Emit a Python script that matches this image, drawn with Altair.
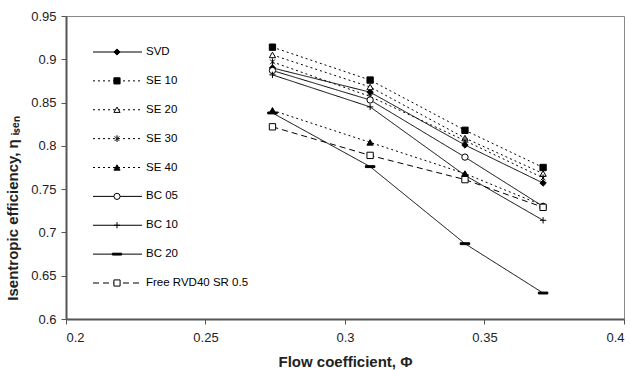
import altair as alt
import pandas as pd

phi = [0.274, 0.309, 0.343, 0.371]
series = ["SVD", "SE 10", "SE 20", "SE 30", "SE 40", "BC 05", "BC 10", "BC 20", "Free RVD40 SR 0.5"]
svd = [0.890, 0.862, 0.801, 0.757]
se10 = [0.914, 0.876, 0.818, 0.775]
se20 = [0.905, 0.868, 0.809, 0.768]
se30 = [0.897, 0.857, 0.806, 0.763]
se40 = [0.841, 0.804, 0.768, 0.731]
bc05 = [0.887, 0.853, 0.787, 0.730]
bc10 = [0.882, 0.845, 0.766, 0.714]
bc20 = [0.838, 0.776, 0.687, 0.630]
free = [0.822, 0.789, 0.761, 0.729]
values = [svd, se10, se20, se30, se40, bc05, bc10, bc20, free]

x_ticks = [0.2, 0.25, 0.3, 0.35, 0.4]
y_ticks = [0.6, 0.65, 0.7, 0.75, 0.8, 0.85, 0.9, 0.95]

star = "M-0.75,-0.75L0.75,0.75M-0.75,0.75L0.75,-0.75M0,-1.1L0,1.1"
plus = "M-1,0L1,0M0,-1L0,1"
dash = "M-1.5,-0.3L1.5,-0.3L1.5,0.3L-1.5,0.3Z"
shapes = ["diamond", "square", "triangle-up", star, "triangle-up", "circle", plus, dash, "square"]
fills = ["black", "black", "white", "transparent", "black", "white", "transparent", "black", "white"]
solid, dot, longdash = [1, 0], [2, 3], [6, 4]
dashes = [solid, dot, dot, dot, dot, solid, solid, solid, longdash]

rows = []
for s, vals in zip(series, values):
    for p, v in zip(phi, vals):
        rows.append({"series": s, "phi": p, "eff": v})
df = pd.DataFrame(rows)
leg = pd.DataFrame({"series": series})

shape_scale = alt.Scale(domain=series, range=shapes)
fill_scale = alt.Scale(domain=series, range=fills)
dash_scale = alt.Scale(domain=series, range=dashes)

X = alt.X("phi:Q", scale=alt.Scale(domain=[0.2, 0.4], nice=False),
          axis=alt.Axis(values=x_ticks, format=".2~f", title="Flow coefficient, Φ", grid=False))
Y = alt.Y("eff:Q", scale=alt.Scale(domain=[0.6, 0.95], nice=False, zero=False),
          axis=alt.Axis(values=y_ticks, format=".2~f", title="Isentropic efficiency,  η ᵢₛₑₙ",
                        grid=False, titleY=192))

lines = alt.Chart(df).mark_line(color="black", strokeWidth=1).encode(
    x=X, y=Y,
    strokeDash=alt.StrokeDash("series:N", scale=dash_scale, legend=None),
    detail="series:N",
)
points = alt.Chart(df).mark_point(filled=False, stroke="black", strokeWidth=1, size=40, opacity=1).encode(
    x=X, y=Y,
    shape=alt.Shape("series:N", scale=shape_scale, legend=None),
    fill=alt.Fill("series:N", scale=fill_scale, legend=None),
)

LY = alt.Y("series:N", scale=alt.Scale(domain=series, type="point", range=[36, 267], padding=0), axis=None)
leg_rule = alt.Chart(leg).mark_rule(color="black", strokeWidth=1).encode(
    x=alt.value(27), x2=alt.value(76), y=LY,
    strokeDash=alt.StrokeDash("series:N", scale=dash_scale, legend=None),
)
leg_pts = alt.Chart(leg).mark_point(filled=False, stroke="black", strokeWidth=1, size=38, opacity=1).encode(
    x=alt.value(51), y=LY,
    shape=alt.Shape("series:N", scale=shape_scale, legend=None),
    fill=alt.Fill("series:N", scale=fill_scale, legend=None),
)
leg_txt = alt.Chart(leg).mark_text(align="left", baseline="middle", font="Liberation Sans",
                                   fontSize=11.5, color="black").encode(
    x=alt.value(80), y=LY, text="series:N",
)

main = alt.layer(lines, points)
legend = alt.layer(leg_rule, leg_pts, leg_txt)

chart = alt.layer(main, legend).resolve_scale(y="independent").properties(
    width=558, height=303,
    autosize=alt.AutoSizeParams(type="none"),
    padding={"left": 66, "top": 16, "right": 7, "bottom": 51},
).configure_view(stroke="#888", strokeWidth=1).configure_axis(
    domainColor="#555", domainWidth=2, tickColor="#555", tickSize=5, tickWidth=1,
    labelFont="Liberation Sans", labelFontSize=13, labelColor="#222", labelPadding=4,
    titleFont="Liberation Sans", titleFontSize=15, titleFontWeight="bold", titleColor="#222",
).configure_axisX(titlePadding=10, labelPadding=7).configure_axisY(titlePadding=10, labelPadding=5)

chart.save("out.html", embed_options={"renderer": "svg", "actions": False})
